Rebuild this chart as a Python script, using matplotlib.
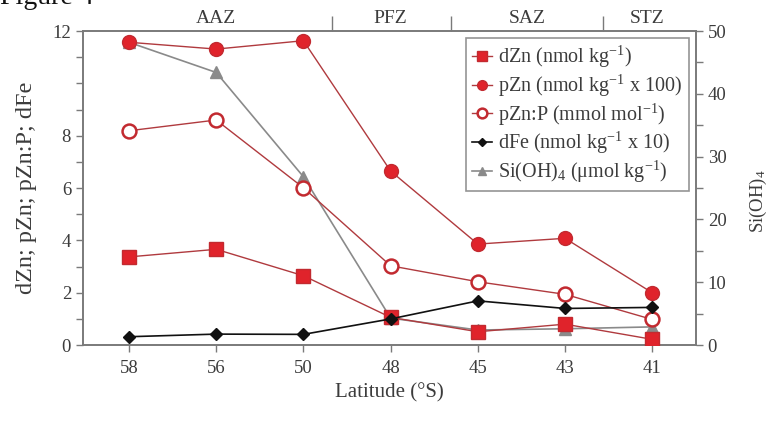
import matplotlib
matplotlib.use("Agg")
import matplotlib.pyplot as plt
from matplotlib.ticker import MultipleLocator, FixedLocator, NullFormatter
from matplotlib.transforms import blended_transform_factory

plt.rcParams['font.family'] = ['Liberation Serif', 'DejaVu Serif']
plt.rcParams['mathtext.fontset'] = 'custom'
plt.rcParams['mathtext.rm'] = 'Liberation Serif'
plt.rcParams['mathtext.it'] = 'Liberation Serif:italic'

# Stations (degrees south)
latitudes = ['58', '56', '50', '48', '45', '43', '41']

dZn = [3.37, 3.66, 2.65, 1.06, 0.51, 0.80, 0.22]          # nmol kg-1
pZn = [11.57, 11.31, 11.63, 6.65, 3.86, 4.08, 2.00]       # nmol kg-1 x 100
pZnP = [8.19, 8.60, 6.01, 3.03, 2.42, 1.94, 0.98]         # mmol mol-1
dFe = [0.32, 0.42, 0.41, 1.00, 1.69, 1.40, 1.44]          # nmol kg-1 x 10
SiOH4 = [48.2, 43.4, 26.8, 4.3, 2.4, 2.6, 2.9]            # umol kg-1

# Frontal zones along the transect (position in station index units)
zone_names = ['AAZ', 'PFZ', 'SAZ', 'STZ']
zone_centers = [1.0, 3.0, 4.57, 5.94]
zone_bounds = [2.33, 3.69, 5.44]

TXT = '#3c3c3c'
SP = '#7a7a7a'
RED = '#e0232b'
REDE = '#c22a30'
REDL = '#b03a3e'

fig = plt.figure(figsize=(7.74, 4.25), dpi=100)
ax = fig.add_axes([0.107, 0.188, 0.792, 0.739])
ax2 = ax.twinx()
# silicate axis sits behind the trace-metal series
ax.set_zorder(ax2.get_zorder() + 1)
ax.patch.set_visible(False)

x = list(range(len(latitudes)))

h1, = ax.plot(x, dZn, '-', color=REDL, lw=1.0, marker='s', ms=10.5,
              mfc=RED, mec=REDE, mew=1.0, label='dZn (nmol kg$^{-1}$)', zorder=4)
h2, = ax.plot(x, pZn, '-', color=REDL, lw=1.0, marker='o', ms=10,
              mfc=RED, mec=REDE, mew=1.0, label='pZn (nmol kg$^{-1}$ x 100)', zorder=4)
h3, = ax.plot(x, pZnP, '-', color=REDL, lw=1.0, marker='o', ms=10,
              mfc='white', mec=REDE, mew=1.8, label='pZn:P (mmol mol$^{-1}$)', zorder=4)
h4, = ax.plot(x, dFe, '-', color='#111111', lw=1.2, marker='D', ms=6.5,
              mfc='#111111', mec='#111111', label='dFe (nmol kg$^{-1}$ x 10)', zorder=5)
h5, = ax2.plot(x, SiOH4, '-', color='#8a8a8a', lw=1.2, marker='^', ms=8,
               mfc='#8a8a8a', mec='#8a8a8a', label='Si(OH)$_4$ (\u03bcmol kg$^{-1}$)', zorder=3)

ax.set_xlim(-0.53, 6.5)
ax.set_ylim(0, 12)
ax2.set_ylim(0, 50)

ax.set_xticks(x)
ax.set_xticklabels(latitudes)
ax.yaxis.set_major_locator(FixedLocator([0, 2, 4, 6, 8, 12]))
ax.yaxis.set_minor_locator(FixedLocator([1, 3, 5, 7, 9, 10, 11]))
ax2.yaxis.set_major_locator(MultipleLocator(10))
ax2.yaxis.set_minor_locator(MultipleLocator(5))

for a in (ax, ax2):
    for s in a.spines.values():
        s.set_color(SP)
        s.set_linewidth(1.2)
    a.tick_params(which='both', direction='out', color=SP, labelcolor=TXT,
                  labelsize=13.5, width=1.0)
    a.tick_params(which='major', length=5)
    a.tick_params(which='minor', length=5)
ax.tick_params(axis='x', pad=6)

ax.set_xlabel('Latitude (\u00b0S)', fontsize=15, color=TXT, labelpad=4)
ax.set_ylabel('dZn; pZn; pZn:P; dFe', fontsize=17.5, color=TXT)
ax.yaxis.set_label_coords(-0.075, 0.5)
ax2.set_ylabel('Si(OH)$_4$', fontsize=13.5, color=TXT)
ax2.yaxis.set_label_coords(1.085, 0.46)

# Zone labels and boundary marks along the top
top = ax.secondary_xaxis('top')
top.set_xticks(zone_bounds)
top.xaxis.set_major_formatter(NullFormatter())
top.tick_params(direction='out', length=11, width=1.0, color=SP)
top.spines['top'].set_visible(False)
trans = blended_transform_factory(ax.transData, ax.transAxes)
for name, xc in zip(zone_names, zone_centers):
    ax.text(xc, 1.04, name, transform=trans, ha='center', va='center',
            fontsize=14, color=TXT)

leg = ax.legend(handles=[h1, h2, h3, h4, h5], loc='upper right',
                bbox_to_anchor=(0.995, 0.99), fontsize=14.5, frameon=True,
                fancybox=False, edgecolor=SP, handlelength=1.0,
                handletextpad=0.3, borderpad=0.3, labelspacing=0.12,
                markerscale=0.7, borderaxespad=0.2)
for t in leg.get_texts():
    t.set_color(TXT)
leg.get_frame().set_linewidth(1.2)
leg.set_zorder(10)

fig.text(0.0, 0.99, 'Figure 4', fontsize=20, color='#111111',
         ha='left', va='baseline')

fig.savefig('out.png', dpi=100)
